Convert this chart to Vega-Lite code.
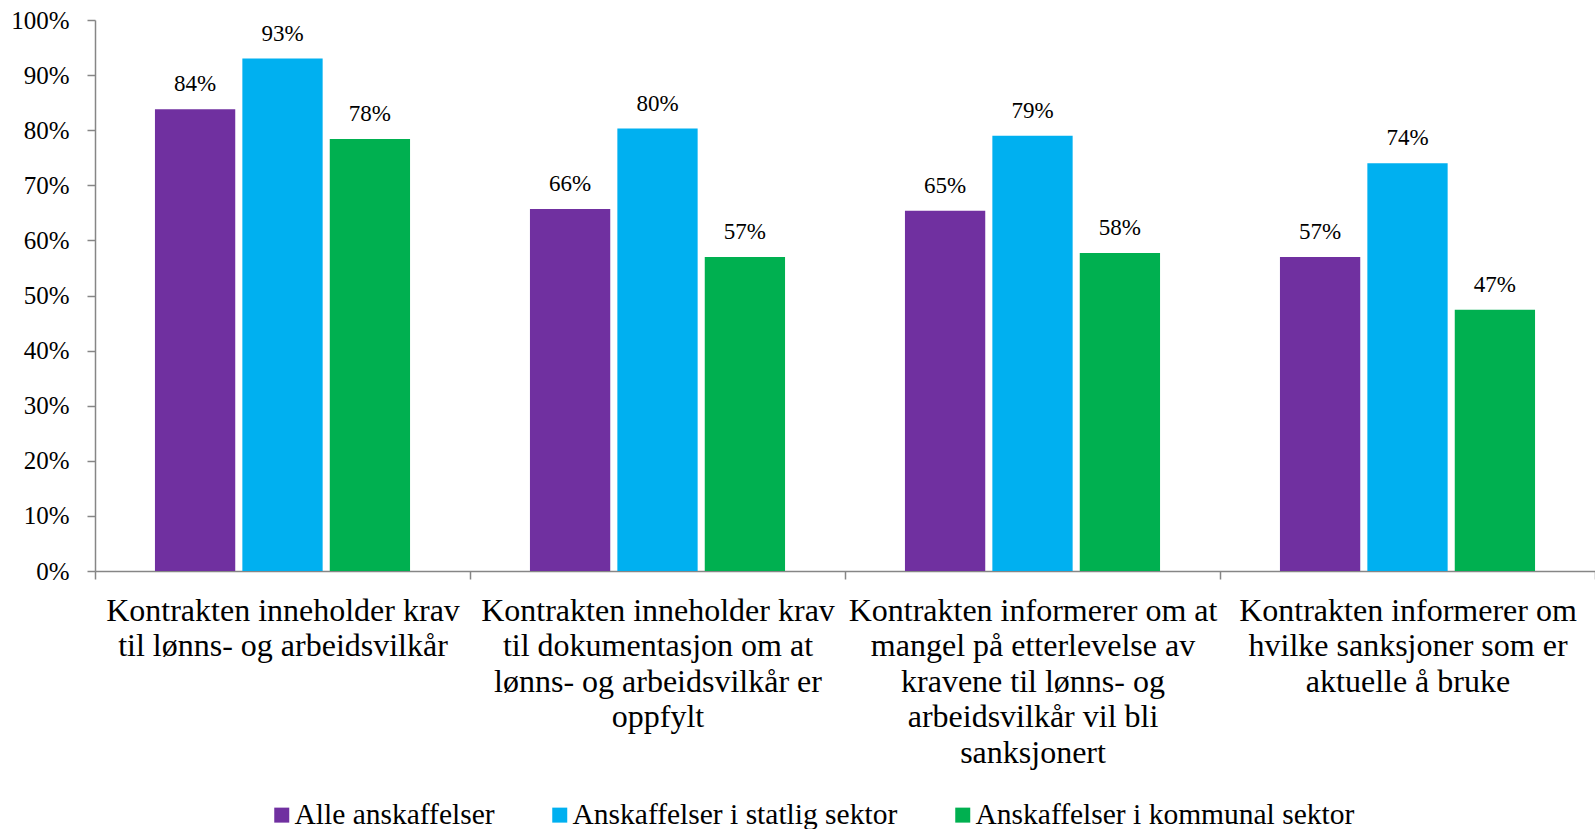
{
  "$schema": "https://vega.github.io/schema/vega-lite/v6.json",
  "width": 1500,
  "height": 551,
  "autosize": {"type": "none"},
  "padding": {"left": 95, "top": 20, "right": 0, "bottom": 258},
  "background": "white",
  "config": {"view": {"stroke": null}, "font": "Liberation Serif"},
  "data": {
    "values": [
      {"kategori": "Kontrakten inneholder krav|til lønns- og arbeidsvilkår", "serie": "Alle anskaffelser", "verdi": 0.838},
      {"kategori": "Kontrakten inneholder krav|til lønns- og arbeidsvilkår", "serie": "Anskaffelser i statlig sektor", "verdi": 0.930},
      {"kategori": "Kontrakten inneholder krav|til lønns- og arbeidsvilkår", "serie": "Anskaffelser i kommunal sektor", "verdi": 0.784},
      {"kategori": "Kontrakten inneholder krav|til dokumentasjon om at|lønns- og arbeidsvilkår er|oppfylt", "serie": "Alle anskaffelser", "verdi": 0.657},
      {"kategori": "Kontrakten inneholder krav|til dokumentasjon om at|lønns- og arbeidsvilkår er|oppfylt", "serie": "Anskaffelser i statlig sektor", "verdi": 0.803},
      {"kategori": "Kontrakten inneholder krav|til dokumentasjon om at|lønns- og arbeidsvilkår er|oppfylt", "serie": "Anskaffelser i kommunal sektor", "verdi": 0.570},
      {"kategori": "Kontrakten informerer om at|mangel på etterlevelse av|kravene til lønns- og|arbeidsvilkår vil bli|sanksjonert", "serie": "Alle anskaffelser", "verdi": 0.654},
      {"kategori": "Kontrakten informerer om at|mangel på etterlevelse av|kravene til lønns- og|arbeidsvilkår vil bli|sanksjonert", "serie": "Anskaffelser i statlig sektor", "verdi": 0.790},
      {"kategori": "Kontrakten informerer om at|mangel på etterlevelse av|kravene til lønns- og|arbeidsvilkår vil bli|sanksjonert", "serie": "Anskaffelser i kommunal sektor", "verdi": 0.577},
      {"kategori": "Kontrakten informerer om|hvilke sanksjoner som er|aktuelle å bruke", "serie": "Alle anskaffelser", "verdi": 0.570},
      {"kategori": "Kontrakten informerer om|hvilke sanksjoner som er|aktuelle å bruke", "serie": "Anskaffelser i statlig sektor", "verdi": 0.740},
      {"kategori": "Kontrakten informerer om|hvilke sanksjoner som er|aktuelle å bruke", "serie": "Anskaffelser i kommunal sektor", "verdi": 0.474}
    ]
  },
  "encoding": {
    "x": {
      "field": "kategori", "type": "nominal", "sort": null,
      "scale": {"paddingInner": 0, "paddingOuter": 0},
      "axis": {
        "title": null, "labelAngle": 0, "tickBand": "extent",
        "tickSize": 8, "labelPadding": 16, "labelFontSize": 32,
        "labelLineHeight": 35.6, "labelExpr": "split(datum.label, '|')",
        "labelLimit": 600, "labelColor": "#000000",
        "domainColor": "#868686", "tickColor": "#868686", "domainWidth": 1.5, "tickWidth": 1.5,
        "labelFont": "Liberation Serif"
      }
    },
    "xOffset": {
      "field": "serie", "type": "nominal",
      "sort": ["Alle anskaffelser", "Anskaffelser i statlig sektor", "Anskaffelser i kommunal sektor"],
      "scale": {"paddingInner": 0.0814, "paddingOuter": 0.686}
    },
    "y": {
      "field": "verdi", "type": "quantitative",
      "scale": {"domain": [0, 1]},
      "axis": {
        "title": null, "grid": false, "tickCount": 10, "format": ".0%",
        "tickSize": 8, "labelPadding": 18, "labelFontSize": 25, "labelColor": "#000000",
        "domainColor": "#868686", "tickColor": "#868686", "domainWidth": 1.5, "tickWidth": 1.5,
        "labelFont": "Liberation Serif"
      }
    }
  },
  "layer": [
    {
      "mark": {"type": "bar"},
      "encoding": {
        "color": {
          "field": "serie", "type": "nominal",
          "sort": ["Alle anskaffelser", "Anskaffelser i statlig sektor", "Anskaffelser i kommunal sektor"],
          "scale": {
            "domain": ["Alle anskaffelser", "Anskaffelser i statlig sektor", "Anskaffelser i kommunal sektor"],
            "range": ["#7030A0", "#00B0F0", "#00B050"]
          },
          "legend": {
            "title": null, "orient": "none", "legendX": 172, "legendY": 780,
            "direction": "horizontal", "symbolType": "square", "symbolSize": 225,
            "symbolStrokeWidth": 0, "symbolOpacity": 1, "labelFontSize": 29.5, "labelLimit": 600,
            "columnPadding": 50, "labelOffset": -2, "padding": 0, "labelColor": "#000000",
            "labelFont": "Liberation Serif"
          }
        }
      }
    },
    {
      "mark": {"type": "text", "baseline": "bottom", "dy": -13, "fontSize": 23, "font": "Liberation Serif", "color": "#000000"},
      "encoding": {
        "text": {"field": "verdi", "type": "quantitative", "format": ".0%"}
      }
    }
  ]
}
